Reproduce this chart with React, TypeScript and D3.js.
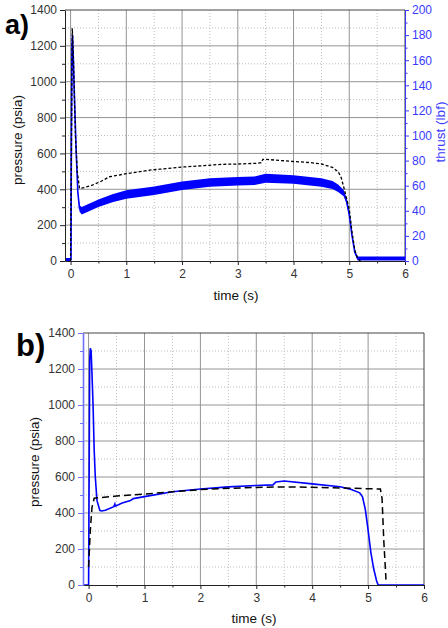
import React, { useRef, useEffect } from 'react';
import * as d3 from 'd3';

const W = 448;
const H = 628;

// a) measured chamber pressure (psia) and thrust (lbf)
const aPressTime = [0, 0.015, 0.03, 0.05, 0.07, 0.09, 0.12, 0.16, 0.25, 0.4, 0.55, 0.7, 1.0, 1.42, 1.6, 2.0, 2.4, 2.7, 3.0, 3.35, 3.42, 3.45, 3.5, 4.0, 4.3, 4.5, 4.7, 4.8, 4.85, 4.9, 4.95, 5.0, 5.05, 5.1, 5.15, 5.2];
const aPressVal = [0, 600, 1298, 1150, 900, 680, 500, 405, 410, 424, 445, 470, 487, 507, 512, 524, 532, 539, 541, 545, 548, 567, 567, 555, 549, 541, 522, 498, 470, 414, 350, 290, 160, 60, 15, 0];

const aThrustTime = [-0.1, -0.05, 0.0, 0.008, 0.015, 0.025, 0.035, 0.05, 0.07, 0.1, 0.13, 0.16, 0.2, 0.3, 0.5, 0.75, 1.0, 1.5, 2.0, 2.5, 3.0, 3.3, 3.5, 4.0, 4.5, 4.7, 4.8, 4.9, 4.95, 5.0, 5.05, 5.1, 5.15, 5.5, 6.0];
const aThrustVal = [1.2, 1.2, 1.2, 1.2, 100, 172, 180, 160, 130, 88, 55, 42, 40, 42, 46, 50, 53, 56, 60, 62.5, 63.5, 64, 66, 65, 62.5, 60.5, 58, 54, 48, 37, 20, 7, 2, 2, 2];
// half-width of the noise band around the thrust trace
const aThrustNoise = [1.2, 1.2, 1.2, 0, 0, 0, 0, 0, 0, 0, 1, 2.5, 3, 3, 3, 3.2, 3.4, 3.4, 3.4, 3.4, 3.4, 3.4, 3.6, 3.4, 3.4, 3.2, 3, 2.5, 2, 1.5, 1, 1, 1.6, 1.6, 1.6];

// b) measured vs predicted pressure (psia)
const bMeasTime = [-0.1, 0.0, 0.01, 0.02, 0.03, 0.045, 0.06, 0.08, 0.1, 0.12, 0.15, 0.2, 0.23, 0.3, 0.45, 0.47, 0.48, 0.6, 0.75, 0.8, 1.0, 1.5, 2.0, 2.5, 3.0, 3.3, 3.35, 3.5, 4.0, 4.5, 4.7, 4.85, 4.9, 4.95, 5.0, 5.05, 5.1, 5.15, 5.18, 6.0];
const bMeasVal = [0, 0, 600, 1250, 1315, 1300, 1180, 1000, 750, 600, 470, 415, 411, 415, 435, 450, 438, 455, 470, 480, 491, 518, 533, 545, 553, 556, 572, 578, 562, 546, 530, 512, 490, 420, 305, 180, 90, 25, 0, 0];

const bPredTime = [0.0, 0.03, 0.06, 0.1, 0.5, 1.0, 1.5, 2.0, 2.5, 3.0, 3.5, 4.0, 4.5, 5.0, 5.22, 5.25, 5.28, 5.32];
const bPredVal = [100, 300, 430, 482, 494, 505, 518, 530, 537, 542, 545, 543, 539, 535, 533, 480, 250, 30];

const xTicks = [0, 1, 2, 3, 4, 5, 6];
const xMinor = [0.5, 1.5, 2.5, 3.5, 4.5, 5.5];
const pressTicks = [0, 200, 400, 600, 800, 1000, 1200, 1400];
const pressMinor = [100, 300, 500, 700, 900, 1100, 1300];
const thrustTicks = [0, 20, 40, 60, 80, 100, 120, 140, 160, 180, 200];
const thrustMinor = [10, 30, 50, 70, 90, 110, 130, 150, 170, 190];

const FONT = '"Liberation Sans", Arial, sans-serif';
const BLUE = '#0000ff';
const LABEL = '13.5px';

const zip = (t: number[], v: number[]) => t.map((d, i) => [d, v[i]] as [number, number]);

function drawPanel(svg: any, box: any) {
  const { left, right, top, bottom, id } = box;
  const x = d3.scaleLinear().domain([-0.1, 6]).range([left, right]);
  const y = d3.scaleLinear().domain([0, 1400]).range([bottom, top]);

  const g = svg.append('g');
  g.append('clipPath').attr('id', id).append('rect')
    .attr('x', left).attr('y', top).attr('width', right - left).attr('height', bottom - top);

  // minor grid
  g.selectAll('.mx').data(xMinor).join('line')
    .attr('x1', d => x(d)).attr('x2', d => x(d)).attr('y1', top).attr('y2', bottom)
    .attr('stroke', '#bdbdbd').attr('stroke-dasharray', '1,2');
  g.selectAll('.my').data(pressMinor).join('line')
    .attr('y1', d => y(d)).attr('y2', d => y(d)).attr('x1', left).attr('x2', right)
    .attr('stroke', '#bdbdbd').attr('stroke-dasharray', '1,2');
  // major grid
  g.selectAll('.gx').data(xTicks.slice(0, -1)).join('line')
    .attr('x1', d => x(d)).attr('x2', d => x(d)).attr('y1', top).attr('y2', bottom)
    .attr('stroke', '#949494');
  g.selectAll('.gy').data(pressTicks.slice(1, -1)).join('line')
    .attr('y1', d => y(d)).attr('y2', d => y(d)).attr('x1', left).attr('x2', right)
    .attr('stroke', '#949494');

  // frame top/right
  g.append('line').attr('x1', left).attr('x2', right).attr('y1', top).attr('y2', top)
    .attr('stroke', '#444');
  g.append('line').attr('x1', right).attr('x2', right).attr('y1', top).attr('y2', bottom)
    .attr('stroke', '#444');

  const plot = g.append('g').attr('clip-path', `url(#${id})`);
  return { g, plot, x, y };
}

function styleAxis(a: any, color: string, textColor: string) {
  a.selectAll('path').attr('stroke', color);
  a.selectAll('line').attr('stroke', color);
  a.selectAll('text').attr('fill', textColor).style('font-family', FONT).style('font-size', '12px');
}

function addAxes(g: any, x: any, y: any, box: any, leftColor: string) {
  const { left, bottom } = box;
  const bx = g.append('g').attr('transform', `translate(0,${bottom})`)
    .call(d3.axisBottom(x).tickValues(xTicks).tickSize(4).tickSizeOuter(0).tickPadding(4).tickFormat(d3.format('d')));
  styleAxis(bx, '#222', '#333');
  const bxm = g.append('g').attr('transform', `translate(0,${bottom})`)
    .call(d3.axisBottom(x).tickValues(xMinor).tickSize(2.5).tickSizeOuter(0).tickFormat(() => ''));
  styleAxis(bxm, '#222', '#333');
  bxm.select('path').remove();

  const ly = g.append('g').attr('transform', `translate(${left},0)`)
    .call(d3.axisLeft(y).tickValues(pressTicks).tickSize(5).tickSizeOuter(0).tickPadding(3).tickFormat(d3.format('d')));
  styleAxis(ly, leftColor, '#333');
  if (leftColor !== '#222') ly.select('path').attr('stroke-width', 1.6);
  const lym = g.append('g').attr('transform', `translate(${left},0)`)
    .call(d3.axisLeft(y).tickValues(pressMinor).tickSize(3).tickSizeOuter(0).tickFormat(() => ''));
  styleAxis(lym, leftColor, '#333');
  lym.select('path').remove();
}

const App = () => {
  const svgRef = useRef<SVGSVGElement>(null);

  useEffect(() => {
    const svg = d3.select(svgRef.current);
    svg.selectAll('*').remove();

    // ---------- panel a ----------
    const boxA = { left: 65, right: 405, top: 10, bottom: 261, id: 'clipA' };
    const A = drawPanel(svg, boxA);
    const yT = d3.scaleLinear().domain([0, 200]).range([boxA.bottom, boxA.top]);

    const thrust = aThrustTime.map((t, i) => ({ t, v: aThrustVal[i], n: aThrustNoise[i] }));
    A.plot.append('path')
      .attr('d', d3.area<any>().x(d => A.x(d.t)).y0(d => yT(d.v - d.n)).y1(d => yT(d.v + d.n))(thrust))
      .attr('fill', BLUE);
    A.plot.append('path')
      .attr('d', d3.line<any>().x(d => A.x(d.t)).y(d => yT(d.v))(thrust))
      .attr('fill', 'none').attr('stroke', BLUE).attr('stroke-width', 1.6);
    A.plot.append('path')
      .attr('d', d3.line().x(d => A.x(d[0])).y(d => A.y(d[1]))(zip(aPressTime, aPressVal)))
      .attr('fill', 'none').attr('stroke', '#000').attr('stroke-width', 1.3).attr('stroke-dasharray', '3,2');

    addAxes(A.g, A.x, A.y, boxA, '#222');
    const ry = A.g.append('g').attr('transform', `translate(${boxA.right},0)`)
      .call(d3.axisRight(yT).tickValues(thrustTicks).tickSize(4).tickSizeOuter(0).tickPadding(3));
    styleAxis(ry, '#3a3aff', '#3a3aff');
    const rym = A.g.append('g').attr('transform', `translate(${boxA.right},0)`)
      .call(d3.axisRight(yT).tickValues(thrustMinor).tickSize(2.5).tickSizeOuter(0).tickFormat(() => ''));
    styleAxis(rym, '#3a3aff', '#3a3aff');
    rym.select('path').remove();

    svg.append('text').attr('x', 18).attr('y', 140).attr('transform', 'rotate(-90,18,140)')
      .attr('text-anchor', 'middle').attr('dominant-baseline', 'middle')
      .style('font-family', FONT).style('font-size', LABEL).attr('fill', '#111').text('pressure (psia)');
    svg.append('text').attr('x', 441).attr('y', 132).attr('transform', 'rotate(-90,441,132)')
      .attr('text-anchor', 'middle').attr('dominant-baseline', 'middle')
      .style('font-family', FONT).style('font-size', LABEL).attr('fill', '#3a3aff').text('thrust (lbf)');
    svg.append('text').attr('x', 236).attr('y', 300).attr('text-anchor', 'middle')
      .style('font-family', FONT).style('font-size', LABEL).attr('fill', '#111').text('time (s)');
    svg.append('text').attr('x', 5).attr('y', 34)
      .style('font-family', FONT).style('font-size', '27px').style('font-weight', 'bold').attr('fill', '#000').text('a)');

    // ---------- panel b ----------
    const boxB = { left: 83, right: 424, top: 333, bottom: 585, id: 'clipB' };
    const B = drawPanel(svg, boxB);
    B.plot.append('path')
      .attr('d', d3.line().x(d => B.x(d[0])).y(d => B.y(d[1]))(zip(bMeasTime, bMeasVal)))
      .attr('fill', 'none').attr('stroke', BLUE).attr('stroke-width', 1.6);
    B.plot.append('path')
      .attr('d', d3.line().x(d => B.x(d[0])).y(d => B.y(d[1]))(zip(bPredTime, bPredVal)))
      .attr('fill', 'none').attr('stroke', '#000').attr('stroke-width', 1.5).attr('stroke-dasharray', '7,4');
    addAxes(B.g, B.x, B.y, boxB, '#7070ff');

    svg.append('text').attr('x', 35).attr('y', 462).attr('transform', 'rotate(-90,35,462)')
      .attr('text-anchor', 'middle').attr('dominant-baseline', 'middle')
      .style('font-family', FONT).style('font-size', LABEL).attr('fill', '#111').text('pressure (psia)');
    svg.append('text').attr('x', 254).attr('y', 623).attr('text-anchor', 'middle')
      .style('font-family', FONT).style('font-size', LABEL).attr('fill', '#111').text('time (s)');
    svg.append('text').attr('x', 16).attr('y', 356)
      .style('font-family', FONT).style('font-size', '31px').style('font-weight', 'bold').attr('fill', '#000').text('b)');
  }, []);

  return (
    <div style={{ position: 'absolute', left: 0, top: 0, width: W, height: H, background: '#fff' }}>
      <svg ref={svgRef} width={W} height={H}></svg>
    </div>
  );
};

export default App;
